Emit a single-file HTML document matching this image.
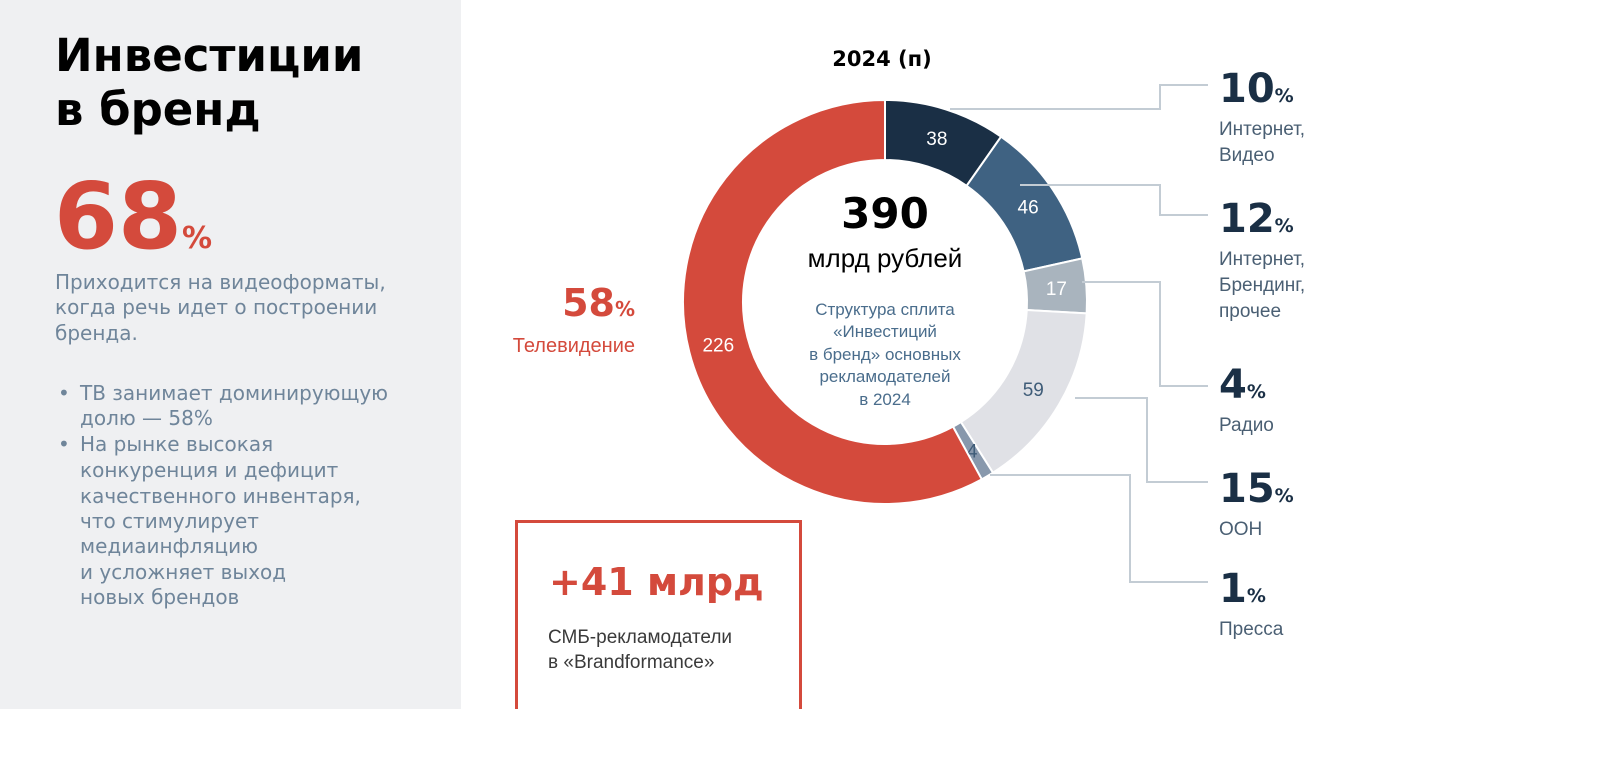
<!DOCTYPE html>
<html><head><meta charset="utf-8"><style>
html,body{margin:0;padding:0;width:1600px;height:759px;background:#fff;overflow:hidden;font-family:"Liberation Sans","DejaVu Sans",sans-serif}
svg{display:block}
</style></head><body>
<svg width="1600" height="759">
<rect x="0" y="0" width="461" height="709" fill="#eff0f2"/>
<g font-family="DejaVu Sans,sans-serif" font-weight="bold" font-size="45" fill="#000">
<text x="55" y="71">Инвестиции</text><text x="55" y="125">в бренд</text></g>
<text x="54" y="248" font-family="DejaVu Sans,sans-serif" font-weight="bold" font-size="92" fill="#d44a3c">68<tspan font-size="30">%</tspan></text>
<g font-family="DejaVu Sans,sans-serif" font-size="20" fill="#6f859a">
<text x="55" y="289">Приходится на видеоформаты,</text>
<text x="55" y="314">когда речь идет о построении</text>
<text x="55" y="340">бренда.</text>
<text x="58" y="400">•</text><text x="80" y="400">ТВ занимает доминирующую</text>
<text x="80" y="425">долю — 58%</text>
<text x="58" y="451">•</text><text x="80" y="451">На рынке высокая</text>
<text x="80" y="477">конкуренция и дефицит</text>
<text x="80" y="503">качественного инвентаря,</text>
<text x="80" y="528">что стимулирует</text>
<text x="80" y="553">медиаинфляцию</text>
<text x="80" y="579">и усложняет выход</text>
<text x="80" y="604">новых брендов</text>
</g>
<path d="M516.5,709 V521.5 H800.5 V709" fill="none" stroke="#d44a3c" stroke-width="3"/>
<text x="549" y="595" font-family="DejaVu Sans,sans-serif" font-weight="bold" font-size="38" fill="#d44a3c">+41 млрд</text>
<text x="548" y="643" font-size="19" fill="#3a3a3a">СМБ-рекламодатели</text>
<text x="548" y="668" font-size="19" fill="#3a3a3a">в «Brandformance»</text>
<text x="882" y="66" text-anchor="middle" font-family="DejaVu Sans,sans-serif" font-weight="bold" font-size="21" fill="#000">2024 (п)</text>
<text x="635" y="316" text-anchor="end" font-family="DejaVu Sans,sans-serif" font-weight="bold" font-size="38" fill="#d44a3c">58<tspan font-size="20">%</tspan></text>
<text x="635" y="352" text-anchor="end" font-size="20" fill="#d44a3c">Телевидение</text>
<g id="donut"></g>
<g id="conn" fill="none" stroke="#c3ccd4" stroke-width="2">
<path d="M950,109 H1160 V85 H1208"/>
<path d="M1020,185 H1160 V215 H1208"/>
<path d="M1082,282 H1160 V386 H1208"/>
<path d="M1075,398 H1147 V482 H1208"/>
<path d="M990,475 H1130 V582 H1208"/>
</g>
<g id="legend"></g>
<text x="885" y="228" text-anchor="middle" font-family="DejaVu Sans,sans-serif" font-weight="bold" font-size="42" fill="#000">390</text>
<text x="885" y="267" text-anchor="middle" font-size="26" fill="#000">млрд рублей</text>
<g text-anchor="middle" font-size="17" fill="#4a6d8c">
<text x="885" y="315">Структура сплита</text><text x="885" y="337">«Инвестиций</text><text x="885" y="360">в бренд» основных</text><text x="885" y="382">рекламодателей</text><text x="885" y="405">в 2024</text></g>
</svg>
<script>
const categories = ["Интернет, Видео","Интернет, Брендинг, прочее","Радио","ООН","Пресса","Телевидение"];
const values = [38,46,17,59,4,226];
const percents = [10,12,4,15,1,58];
const colors = ["#1a2f45","#3f6282","#a9b4be","#e0e1e6","#8898ac","#d44a3c"];
const labelColors = ["#fff","#fff","#fff","#3f5c78","#3f5c78","#fff"];
const legendLines = [["Интернет,","Видео"],["Интернет,","Брендинг,","прочее"],["Радио"],["ООН"],["Пресса"]];
const NS="http://www.w3.org/2000/svg";
const cx=885, cy=302, R=202, r=142;
const total=values.reduce((a,b)=>a+b,0);
const donut=document.getElementById('donut');
function pt(rad,a){return [cx+rad*Math.sin(a), cy-rad*Math.cos(a)];}
let acc=0;
values.forEach((v,i)=>{
  const a0=acc/total*2*Math.PI, a1=(acc+v)/total*2*Math.PI; acc+=v;
  const large=(a1-a0)>Math.PI?1:0;
  const p0=pt(R,a0),p1=pt(R,a1),q1=pt(r,a1),q0=pt(r,a0);
  const p=document.createElementNS(NS,'path');
  p.setAttribute('d',`M${p0} A${R},${R} 0 ${large} 1 ${p1} L${q1} A${r},${r} 0 ${large} 0 ${q0}Z`);
  p.setAttribute('fill',colors[i]);p.setAttribute('stroke','#fff');p.setAttribute('stroke-width','2');
  
  
  donut.appendChild(p);
  const m=pt((R+r)/2,(a0+a1)/2);
  const t=document.createElementNS(NS,'text');
  t.setAttribute('x',m[0]);t.setAttribute('y',m[1]+7);t.setAttribute('text-anchor','middle');
  t.setAttribute('font-size','19');t.setAttribute('fill',labelColors[i]);
  
  
  t.textContent=values[i];donut.appendChild(t);
});
const legend=document.getElementById('legend');
const tops=[102,232,398,502,602];
legendLines.forEach((lines,i)=>{
  const t=document.createElementNS(NS,'text');
  t.setAttribute('x',1219);t.setAttribute('y',tops[i]);
  t.setAttribute('font-family','DejaVu Sans,sans-serif');t.setAttribute('font-weight','bold');
  t.setAttribute('font-size','40');t.setAttribute('fill','#1a2f45');
  
  
  t.innerHTML=percents[i]+'<tspan font-size="19">%</tspan>';
  legend.appendChild(t);
  lines.forEach((l,j)=>{
    const s=document.createElementNS(NS,'text');
    s.setAttribute('x',1219);s.setAttribute('y',tops[i]+33+j*26);
    s.setAttribute('font-size','19');s.setAttribute('fill','#4a5f73');
    
    
    s.textContent=l;legend.appendChild(s);
  });
});
</script>
</body></html>
